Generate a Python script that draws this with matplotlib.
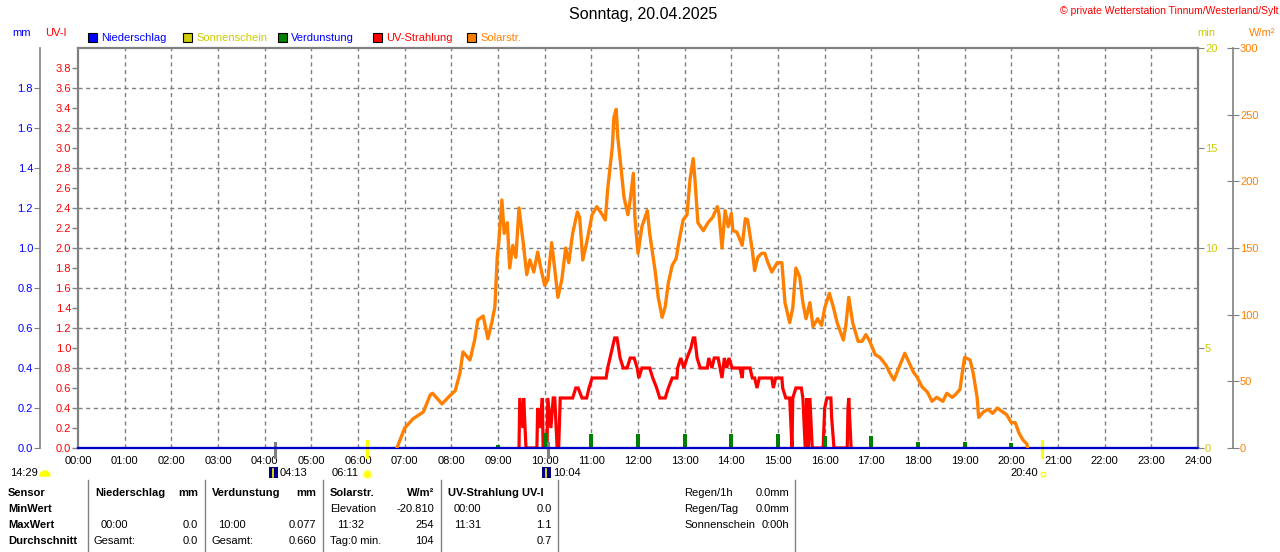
import numpy as np
import matplotlib.pyplot as plt
from matplotlib.patches import Rectangle, Wedge

W, H = 1280, 552
plt.rcParams['font.family'] = ['Liberation Sans', 'DejaVu Sans']
plt.rcParams['font.size'] = 8

# --- data ---
solar_time = ["06:50", "07:00", "07:11", "07:24", "07:33", "07:36", "07:48", "07:56", "08:05", "08:11",
              "08:15", "08:24", "08:30", "08:34", "08:41", "08:47", "08:52", "08:56", "08:59", "09:01",
              "09:05", "09:08", "09:12", "09:15", "09:19", "09:23", "09:27", "09:32", "09:37", "09:41",
              "09:46", "09:51", "09:55", "10:00", "10:04", "10:09", "10:13", "10:17", "10:22", "10:27",
              "10:31", "10:36", "10:42", "10:45", "10:49", "10:54", "11:01", "11:07", "11:14", "11:18",
              "11:21", "11:27", "11:29", "11:32", "11:34", "11:38", "11:42", "11:47", "11:50", "11:54",
              "11:56", "12:00", "12:05", "12:12", "12:15", "12:22", "12:26", "12:31", "12:35", "12:39",
              "12:44", "12:49", "12:53", "12:58", "13:03", "13:07", "13:11", "13:13", "13:17", "13:24",
              "13:30", "13:36", "13:42", "13:44", "13:48", "13:52", "13:56", "14:00", "14:02", "14:07",
              "14:14", "14:18", "14:21", "14:27", "14:30", "14:34", "14:39", "14:43", "14:47", "14:52",
              "14:59", "15:05", "15:09", "15:15", "15:19", "15:23", "15:28", "15:32", "15:36", "15:41",
              "15:45", "15:51", "15:56", "16:00", "16:06", "16:11", "16:16", "16:24", "16:27", "16:31",
              "16:36", "16:43", "16:48", "16:53", "16:58", "17:05", "17:11", "17:19", "17:24", "17:29",
              "17:36", "17:43", "17:47", "17:54", "17:59", "18:05", "18:12", "18:18", "18:24", "18:32",
              "18:37", "18:44", "18:48", "18:54", "18:58", "19:00", "19:07", "19:11", "19:16", "19:18",
              "19:24", "19:30", "19:36", "19:42", "19:49", "19:54", "20:00", "20:05", "20:10", "20:15",
              "20:20", "20:21"]
solar_wm2 = [0, 15, 22, 27, 40, 41, 33, 38, 43, 56,
             72, 66, 81, 96, 99, 82, 94, 106, 143, 154,
             186, 161, 169, 135, 152, 143, 180, 156, 130, 141,
             132, 147, 135, 122, 126, 154, 134, 113, 126, 150,
             139, 161, 177, 173, 141, 154, 175, 181, 175, 171,
             194, 226, 248, 254, 233, 211, 188, 175, 186, 206,
             173, 146, 166, 178, 161, 133, 113, 98, 106, 124,
             137, 142, 156, 171, 175, 202, 217, 203, 169, 163,
             169, 173, 181, 176, 150, 178, 166, 176, 163, 162,
             152, 172, 171, 148, 133, 143, 146, 146, 139, 132,
             139, 139, 109, 94, 105, 135, 128, 109, 97, 109,
             91, 97, 92, 105, 116, 106, 94, 81, 91, 113,
             94, 80, 80, 85, 80, 70, 68, 62, 56, 51,
             61, 71, 66, 57, 53, 46, 42, 35, 38, 35,
             41, 38, 40, 44, 61, 68, 66, 56, 38, 23,
             27, 29, 26, 30, 27, 25, 19, 19, 11, 6,
             3, 0]

uv_time = ["09:27", "09:28", "09:32", "09:33", "09:36", "09:50", "09:51", "09:54", "09:57", "09:58",
           "10:03", "10:04", "10:08", "10:11", "10:13", "10:16", "10:18", "10:20", "10:36", "10:40",
           "10:43", "10:48", "10:54", "10:57", "11:01", "11:19", "11:21", "11:27", "11:30", "11:33",
           "11:37", "11:41", "11:46", "11:50", "11:55", "11:59", "12:01", "12:05", "12:15", "12:19",
           "12:24", "12:28", "12:35", "12:39", "12:44", "12:50", "12:51", "12:55", "12:59", "13:03",
           "13:08", "13:11", "13:13", "13:16", "13:20", "13:29", "13:31", "13:35", "13:38", "13:43",
           "13:48", "13:51", "13:54", "13:57", "14:01", "14:11", "14:14", "14:15", "14:24", "14:27",
           "14:30", "14:33", "14:36", "14:52", "14:54", "14:57", "15:05", "15:06", "15:10", "15:15",
           "15:18", "15:19", "15:23", "15:30", "15:32", "15:35", "15:37", "15:39", "15:41", "15:44",
           "15:58", "16:00", "16:03", "16:08", "16:09", "16:12", "16:29", "16:30", "16:31", "16:34"]
uv_index = [0, 0.5, 0.2, 0.5, 0, 0, 0.4, 0.2, 0.5, 0,
            0, 0.5, 0.2, 0.5, 0.5, 0, 0, 0.5, 0.5, 0.6,
            0.6, 0.5, 0.5, 0.6, 0.7, 0.7, 0.8, 1.0, 1.1, 1.1,
            0.9, 0.8, 0.8, 0.9, 0.9, 0.8, 0.7, 0.8, 0.8, 0.7,
            0.6, 0.5, 0.5, 0.6, 0.7, 0.7, 0.8, 0.9, 0.8, 0.9,
            1.0, 1.1, 1.1, 0.9, 0.8, 0.8, 0.9, 0.8, 0.9, 0.9,
            0.7, 0.9, 0.8, 0.9, 0.8, 0.8, 0.7, 0.8, 0.8, 0.7,
            0.7, 0.6, 0.7, 0.7, 0.6, 0.7, 0.7, 0.6, 0.5, 0.5,
            0, 0.5, 0.6, 0.6, 0.5, 0, 0.5, 0, 0.5, 0,
            0, 0.4, 0.5, 0.5, 0.3, 0, 0, 0.4, 0.5, 0]

evap_time = ["09:00", "10:00", "11:00", "12:00", "13:00", "14:00",
             "15:00", "16:00", "17:00", "18:00", "19:00", "20:00"]
evap_mm = [0.015, 0.077, 0.072, 0.072, 0.072, 0.072,
           0.072, 0.062, 0.060, 0.030, 0.030, 0.026]

rain_time = ["00:00", "24:00"]
rain_mm = [0.0, 0.0]

sun_events = ["06:11", "20:40"]
moon_events = ["04:13", "10:04"]


def hours(times):
    return np.array([int(t[:2]) + int(t[3:]) / 60 for t in times])


def xpix(t):
    return 78 + hours([t])[0] * 1120 / 24


GRAY = '#808080'
YEL = '#cccc00'
ORA = '#ff8000'

fig = plt.figure(figsize=(W / 100, H / 100), dpi=100)
ax = fig.add_axes([78 / W, 1 - 448 / H, 1120 / W, 400 / H])
ax.set_xlim(0, 24)
ax.set_ylim(0, 4)
for s in ax.spines.values():
    s.set_color(GRAY)
    s.set_linewidth(1.6)

ax.set_xticks(range(25))
ax.set_xticklabels([f"{h:02d}:00" for h in range(25)])
ax.tick_params(axis='x', length=0, pad=6, labelsize=8)
uv_ticks = np.arange(0, 3.81, 0.2)
ax.set_yticks(uv_ticks)
ax.set_yticklabels([f"{v:.1f}" for v in uv_ticks])
ax.tick_params(axis='y', direction='out', length=4, width=1, color=GRAY,
               labelcolor='#ff0000', pad=1, labelsize=8)

for h in range(1, 24):
    ax.axvline(h, color=GRAY, lw=1, ls=(0, (3, 2.5)), zorder=0)
for v in np.arange(0.4, 3.7, 0.4):
    ax.axhline(v, color=GRAY, lw=1, ls=(0, (3, 2.5)), zorder=0)

ax.plot(hours(uv_time), uv_index, color='#ff0000', lw=2.3, solid_joinstyle='miter', zorder=3)

# event ticks on the time axis
for t in moon_events:
    ax.plot([hours([t])[0]] * 2, [-0.09, 0.05], color=GRAY, lw=2.2, clip_on=False, zorder=4)
for t in sun_events:
    ax.plot([hours([t])[0]] * 2, [-0.09, 0.07], color='#ffff00', lw=2.2, clip_on=False, zorder=4)

# mm axis (left outer)
ax_mm = ax.twinx()
ax_mm.set_ylim(0, 2)
ax_mm.yaxis.set_ticks_position('left')
for k in ['right', 'top', 'bottom']:
    ax_mm.spines[k].set_visible(False)
ax_mm.spines['left'].set_position(('axes', (40 - 78) / 1120))
ax_mm.spines['left'].set_color(GRAY)
ax_mm.spines['left'].set_linewidth(1.2)
mm_ticks = np.arange(0, 1.81, 0.2)
ax_mm.set_yticks(mm_ticks)
ax_mm.set_yticklabels([f"{v:.1f}" for v in mm_ticks])
ax_mm.tick_params(axis='y', direction='out', length=4, color=GRAY,
                  labelcolor='#0000ff', pad=1, labelsize=8)
ax_mm.bar(hours(evap_time), evap_mm, width=5 / 60, color='#008000', zorder=2)
ax_mm.plot(hours(rain_time), rain_mm, color='#0000cc', lw=1.6, clip_on=False, zorder=5)

# sunshine minutes axis (plot right)
ax_min = ax.twinx()
ax_min.set_ylim(0, 20)
for k in ['left', 'right', 'top', 'bottom']:
    ax_min.spines[k].set_visible(False)
ax_min.set_yticks([0, 5, 10, 15, 20])
ax_min.tick_params(axis='y', direction='out', length=4, color=GRAY,
                   labelcolor=YEL, pad=1, labelsize=8)

# solar radiation axis (right outer)
ax_sol = ax.twinx()
ax_sol.set_ylim(0, 300)
for k in ['left', 'top', 'bottom']:
    ax_sol.spines[k].set_visible(False)
ax_sol.spines['right'].set_position(('axes', (1233 - 78) / 1120))
ax_sol.spines['right'].set_color(GRAY)
ax_sol.spines['right'].set_linewidth(1.2)
ax_sol.set_yticks(range(0, 301, 50))
ax_sol.tick_params(axis='y', direction='inout', length=8, color=GRAY,
                   labelcolor=ORA, pad=1, labelsize=8)
ax_sol.plot(hours(solar_time), solar_wm2, color=ORA, lw=2.4, zorder=4)

# --- overlay for texts in pixel coordinates ---
ov = fig.add_axes([0, 0, 1, 1], zorder=10)
ov.set_xlim(0, W)
ov.set_ylim(H, 0)
ov.axis('off')


def txt(x, y, s, **kw):
    kw.setdefault('va', 'center')
    ov.text(x, y, s, **kw)


txt(643, 15, "Sonntag, 20.04.2025", ha='center', fontsize=11.5)
txt(1278, 11, "© private Wetterstation Tinnum/Westerland/Sylt", ha='right',
    color='#ff0000', fontsize=7.5)
txt(22, 33, "mm", ha='center', color='#0000ff')
txt(56, 33, "UV-I", ha='center', color='#ff0000')
txt(1206, 33, "min", ha='center', color=YEL)
txt(1262, 33, "W/m²", ha='center', color=ORA)

legend_items = [("Niederschlag", '#0000ff', '#0000ff', 88),
                ("Sonnenschein", YEL, YEL, 183),
                ("Verdunstung", '#008000', '#0000ff', 278),
                ("UV-Strahlung", '#ff0000', '#ff0000', 373),
                ("Solarstr.", ORA, ORA, 467)]
for name, fc, tc, x0 in legend_items:
    ov.add_patch(Rectangle((x0, 33), 9, 9, facecolor=fc, edgecolor='black', lw=0.8))
    txt(x0 + 13, 38, name, ha='left', color=tc)

# events below time axis
txt(10, 473, "14:29", ha='left')
ov.add_patch(Wedge((45, 476), 5, 180, 360, color='#ffff00'))
for t in moon_events:
    xp = xpix(t)
    ov.add_patch(Rectangle((xp - 6, 467), 9, 11, facecolor='#000080', edgecolor='none'))
    ov.plot([xp - 1.5, xp - 1.5], [469, 477], color='#ffff00', lw=1.2)
    txt(xp + 5, 473, t, ha='left')
xs = xpix(sun_events[0])
ov.plot([xs], [474], marker='o', ms=6, color='#ffff00', mec='#ffffa0')
txt(xs - 8, 473, sun_events[0], ha='right')
xe = xpix(sun_events[1])
ov.add_patch(Rectangle((xe - 1, 472), 4, 4, facecolor='none', edgecolor='#ffff00', lw=1))
txt(xe - 4, 473, sun_events[1], ha='right')

# statistics table
for xl in [88, 205, 323, 441, 558, 795]:
    ov.plot([xl, xl], [480, 552], color=GRAY, lw=1)

rows_y = [493, 509, 525, 541]
for lab, y in zip(["Sensor", "MinWert", "MaxWert", "Durchschnitt"], rows_y):
    txt(8, y, lab, ha='left', fontweight='bold')
headers = [("Niederschlag", 95, 'left'), ("mm", 198, 'right'),
           ("Verdunstung", 212, 'left'), ("mm", 316, 'right'),
           ("Solarstr.", 330, 'left'), ("W/m²", 434, 'right'),
           ("UV-Strahlung UV-I", 448, 'left')]
for s, x, ha in headers:
    txt(x, rows_y[0], s, ha=ha, fontweight='bold')

cells = [("Elevation", 330, 1, 'left'), ("-20.810", 434, 1, 'right'),
         ("00:00", 454, 1, 'left'), ("0.0", 552, 1, 'right'),
         ("00:00", 101, 2, 'left'), ("0.0", 198, 2, 'right'),
         ("10:00", 218, 2, 'left'), ("0.077", 316, 2, 'right'),
         ("11:32", 337, 2, 'left'), ("254", 434, 2, 'right'),
         ("11:31", 454, 2, 'left'), ("1.1", 552, 2, 'right'),
         ("Gesamt:", 94, 3, 'left'), ("0.0", 198, 3, 'right'),
         ("Gesamt:", 212, 3, 'left'), ("0.660", 316, 3, 'right'),
         ("Tag:0 min.", 330, 3, 'left'), ("104", 434, 3, 'right'),
         ("0.7", 552, 3, 'right')]
for s, x, r, ha in cells:
    txt(x, rows_y[r], s, ha=ha)

extra = [("Regen/1h", "0.0mm"), ("Regen/Tag", "0.0mm"), ("Sonnenschein", "0:00h")]
for (lab, val), y in zip(extra, rows_y):
    txt(684, y, lab, ha='left')
    txt(789, y, val, ha='right')

fig.savefig('out.png', dpi=100)
